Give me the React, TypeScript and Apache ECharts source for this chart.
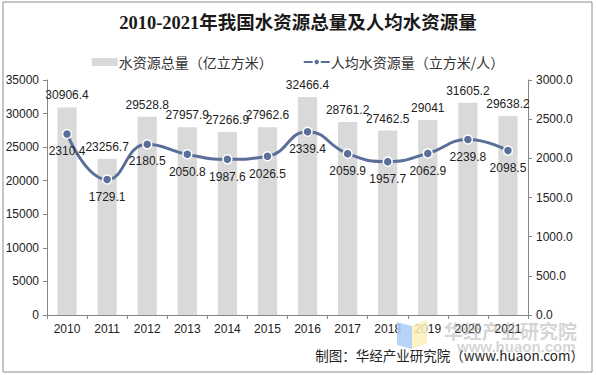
import React, { useEffect, useRef } from "react";
import * as echarts from "echarts";

const years = ["2010", "2011", "2012", "2013", "2014", "2015", "2016", "2017", "2018", "2019", "2020", "2021"];
const totalWater = [30906.4, 23256.7, 29528.8, 27957.9, 27266.9, 27962.6, 32466.4, 28761.2, 27462.5, 29041, 31605.2, 29638.2];
const perCapita = [2310.4, 1729.1, 2180.5, 2050.8, 1987.6, 2026.5, 2339.4, 2059.9, 1957.7, 2062.9, 2239.8, 2098.5];
const seriesNames = ["水资源总量（亿立方米）", "人均水资源量（立方米/人）"];

const FONT = "Liberation Sans, Arial, Noto Sans CJK SC, sans-serif";

export default function App() {
  const ref = useRef<HTMLDivElement>(null);
  useEffect(() => {
    document.body.style.margin = "0";
    const chart = echarts.init(ref.current!, null, { renderer: "svg" });
    const axisLine = { show: true, lineStyle: { color: "#868686", width: 1 } };
    chart.setOption({
      animation: false,
      backgroundColor: "#ffffff",
      textStyle: { fontFamily: FONT },
      title: {
        text: "2010-2021年我国水资源总量及人均水资源量",
        left: "center",
        top: 9,
        textStyle: {
          fontFamily: "Liberation Serif, Noto Sans CJK SC, serif",
          fontSize: 18.5,
          fontWeight: "bold",
          color: "#1a1a1a",
        },
      },
      legend: {
        top: 50,
        left: "center",
        itemGap: 30,
        itemWidth: 26,
        itemHeight: 8,
        textStyle: { fontSize: 14, color: "#333", fontFamily: "Noto Sans CJK SC, sans-serif", padding: [0, 0, 0, -4] },
        data: [
          { name: seriesNames[0], icon: "rect" },
          { name: seriesNames[1] },
        ],
      },
      grid: { left: 47, right: 68, top: 80, bottom: 60 },
      xAxis: {
        type: "category",
        data: years,
        axisLine,
        axisTick: { show: true, alignWithLabel: false, length: 4, lineStyle: { color: "#868686" } },
        axisLabel: { fontSize: 12, color: "#222", margin: 8 },
      },
      yAxis: [
        {
          type: "value",
          min: 0,
          max: 35000,
          interval: 5000,
          axisLine,
          axisTick: { show: true, length: 4, lineStyle: { color: "#868686" } },
          splitLine: { show: false },
          axisLabel: { fontSize: 12, color: "#222", margin: 8, formatter: (v: number) => String(v) },
        },
        {
          type: "value",
          min: 0,
          max: 3000,
          interval: 500,
          position: "right",
          axisLine,
          axisTick: { show: true, length: 4, lineStyle: { color: "#868686" } },
          splitLine: { show: false },
          axisLabel: { fontSize: 12, color: "#222", margin: 8, formatter: (v: number) => v.toFixed(1) },
        },
      ],
      series: [
        {
          name: seriesNames[0],
          type: "bar",
          data: totalWater,
          barWidth: "48%",
          itemStyle: { color: "#d9d9d9" },
          label: { show: true, position: "top", fontSize: 12, color: "#222", distance: 6 },
          z: 1,
        },
        {
          name: seriesNames[1],
          type: "line",
          yAxisIndex: 1,
          data: perCapita,
          smooth: 0.5,
          symbol: "circle",
          symbolSize: 9,
          lineStyle: { color: "#5a6e9a", width: 3 },
          itemStyle: { color: "#5a6e9a", borderColor: "#ffffff", borderWidth: 1.5 },
          label: { show: true, position: "bottom", fontSize: 12, color: "#222", distance: 6 },
          z: 3,
        },
      ],
      graphic: [
        {
          type: "rect",
          shape: { x: 3, y: 2, width: 589, height: 370 },
          style: { fill: "none", stroke: "#8c8c8c", lineWidth: 1 },
          silent: true,
          z: 100,
        },
        {
          type: "polygon",
          shape: { points: [[397, 322], [412, 326], [412, 349], [397, 345]] },
          style: { fill: "#a9cdf7", opacity: 0.85 },
          silent: true,
          z: 90,
        },
        {
          type: "polygon",
          shape: { points: [[412, 326], [427, 320], [427, 343], [412, 349]] },
          style: { fill: "#fbeeb5", opacity: 0.85 },
          silent: true,
          z: 90,
        },
        {
          type: "text",
          x: 444,
          y: 321,
          style: {
            text: "华经产业研究院",
            fontSize: 19,
            fontWeight: "bold",
            fontFamily: "Noto Sans CJK SC, sans-serif",
            fill: "rgba(160,160,160,0.45)",
          },
          silent: true,
          z: 90,
        },
        {
          type: "text",
          x: 457,
          y: 339,
          style: {
            text: "www.huaon.com",
            fontSize: 15,
            fontWeight: "bold",
            fontFamily: "Liberation Sans, sans-serif",
            fill: "rgba(160,160,160,0.45)",
          },
          silent: true,
          z: 90,
        },
        {
          type: "text",
          right: 12,
          top: 348,
          style: {
            text: "制图：华经产业研究院（www.huaon.com）",
            fontSize: 13.5,
            fontFamily: "Noto Sans CJK SC, sans-serif",
            fill: "#222",
          },
          silent: true,
          z: 95,
        },
      ],
    });
    return () => chart.dispose();
  }, []);
  return <div ref={ref} style={{ width: 596, height: 375 }} />;
}
